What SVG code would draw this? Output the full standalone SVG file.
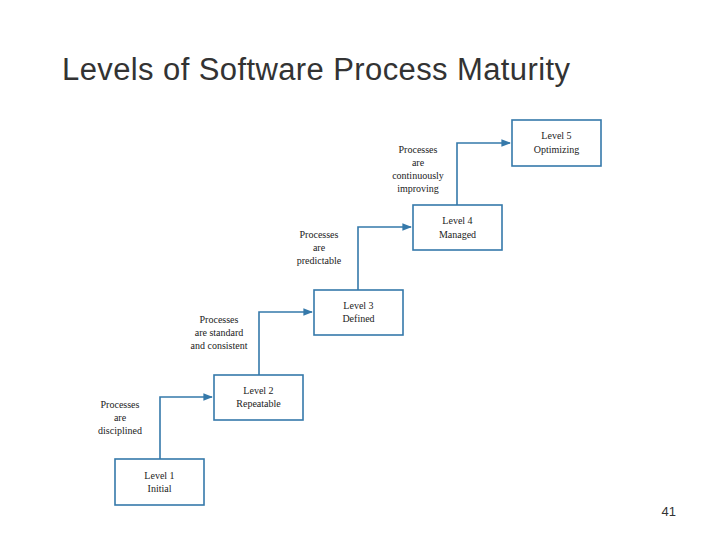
<svg xmlns="http://www.w3.org/2000/svg" width="720" height="540" viewBox="0 0 720 540">
<defs>
<style>
.b{fill:#fff;stroke:#3579aa;stroke-width:1.6}
.t{font-family:"Liberation Serif",serif;font-size:10px;fill:#222;text-anchor:middle}
.c{fill:none;stroke:#3579aa;stroke-width:1.6}
</style>
<marker id="a" viewBox="0 0 10 10" refX="9" refY="5" markerWidth="6" markerHeight="6" orient="auto"><path d="M0,1 L10,5 L0,9 z" fill="#3579aa"/></marker>
</defs>
<rect width="720" height="540" fill="#fff"/>
<text x="62" y="80" font-family="Liberation Sans,Arial,sans-serif" font-size="31" fill="#333" textLength="508">Levels of Software Process Maturity</text>
<text x="676" y="516" font-family="Liberation Sans,Arial,sans-serif" font-size="13" fill="#333" text-anchor="end">41</text>
<g id="connectors">
<path class="c" d="M160,459 V397 H212" marker-end="url(#a)"/>
<path class="c" d="M259,375 V312 H312" marker-end="url(#a)"/>
<path class="c" d="M358,290 V227 H411" marker-end="url(#a)"/>
<path class="c" d="M457,205 V143 H510" marker-end="url(#a)"/>
</g>
<g id="l1"><rect class="b" x="115" y="459" width="89" height="46"/><text class="t" x="159.5" y="479">Level 1</text><text class="t" x="159.5" y="492">Initial</text></g>
<g id="l2"><rect class="b" x="214" y="375" width="89" height="45"/><text class="t" x="258.5" y="394">Level 2</text><text class="t" x="258.5" y="407">Repeatable</text></g>
<g id="l3"><rect class="b" x="314" y="290" width="89" height="45"/><text class="t" x="358.5" y="309">Level 3</text><text class="t" x="358.5" y="322">Defined</text></g>
<g id="l4"><rect class="b" x="413" y="205" width="89" height="45"/><text class="t" x="457.5" y="224">Level 4</text><text class="t" x="457.5" y="238">Managed</text></g>
<g id="l5"><rect class="b" x="512" y="120" width="89" height="46"/><text class="t" x="556.5" y="139">Level 5</text><text class="t" x="556.5" y="153">Optimizing</text></g>
<g id="labels">
<text class="t" x="120" y="408">Processes</text><text class="t" x="120" y="421">are</text><text class="t" x="120" y="434">disciplined</text>
<text class="t" x="219" y="323">Processes</text><text class="t" x="219" y="336">are standard</text><text class="t" x="219" y="349">and consistent</text>
<text class="t" x="319" y="238">Processes</text><text class="t" x="319" y="251">are</text><text class="t" x="319" y="264">predictable</text>
<text class="t" x="418" y="153">Processes</text><text class="t" x="418" y="166">are</text><text class="t" x="418" y="179">continuously</text><text class="t" x="418" y="192">improving</text>
</g>
</svg>
